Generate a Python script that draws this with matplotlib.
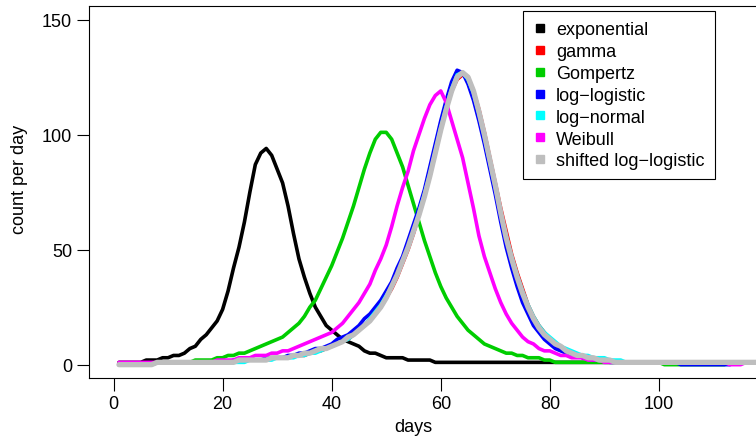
import numpy as np
import matplotlib
matplotlib.use('Agg')
import matplotlib.pyplot as plt
from matplotlib.lines import Line2D

plt.rcParams['font.family'] = ['Liberation Sans', 'DejaVu Sans']

days = np.arange(1, 119)

exponential = [
    1, 1, 1, 1, 1, 2, 2, 2, 3, 3,
    4, 4, 5, 7, 8, 11, 13, 16, 19, 24,
    32, 42, 51, 62, 75, 87, 92, 94, 91, 85,
    79, 69, 57, 46, 38, 31, 25, 21, 17, 15,
    13, 11, 10, 9, 8, 6, 5, 5, 4, 3,
    3, 3, 3, 2, 2, 2, 2, 2, 1, 1,
    1, 1, 1, 1, 1, 1, 1, 1, 1, 1,
    1, 1, 1, 1, 1, 1, 1, 1, 1, 1,
    1, 1, 1, 1, 1, 1, 1, 1, 1, 1,
    1, 1, 1, 1, 1, 1, 1, 1, 1, 1,
    1, 1, 1, 1, 1, 1, 1, 1, 1, 1,
    1, 1, 1, 1, 1, 1, 1, 1,
]
gamma = [
    0, 0, 0, 0, 0, 0, 0, 1, 1, 1,
    1, 1, 1, 1, 1, 1, 1, 1, 1, 1,
    1, 1, 2, 2, 2, 2, 2, 2, 3, 3,
    3, 3, 4, 4, 4, 5, 6, 6, 7, 8,
    9, 10, 11, 13, 15, 17, 19, 22, 25, 29,
    33, 38, 44, 50, 57, 65, 73, 82, 92, 102,
    111, 119, 124, 126, 125, 119, 111, 101, 90, 79,
    68, 58, 48, 40, 33, 26, 21, 17, 14, 11,
    9, 7, 6, 5, 4, 3, 3, 2, 2, 2,
    2, 1, 1, 1, 1, 1, 1, 1, 1, 1,
    1, 1, 1, 1, 1, 1, 1, 1, 1, 1,
    1, 1, 1, 1, 1, 1, 1, 1,
]
gompertz = [
    0, 0, 0, 0, 0, 0, 0, 1, 1, 1,
    1, 1, 1, 1, 2, 2, 2, 2, 3, 3,
    4, 4, 5, 5, 6, 7, 8, 9, 10, 11,
    12, 14, 16, 18, 21, 25, 28, 33, 38, 43,
    49, 55, 62, 69, 77, 85, 92, 98, 101, 101,
    98, 92, 86, 78, 70, 62, 54, 47, 40, 34,
    29, 25, 21, 18, 15, 13, 11, 9, 8, 7,
    6, 5, 5, 4, 4, 3, 3, 3, 2, 2,
    1, 1, 1, 1, 1, 1, 1, 1, 1, 1,
    1, 1, 1, 1, 1, 1, 1, 1, 1, 1,
    0, 0, 0, 0, 0, 0, 0, 0, 0, 0,
    0, 0, 1, 1, 1, 1, 1, 1,
]
log_logistic = [
    0, 0, 0, 0, 0, 0, 0, 1, 1, 1,
    1, 1, 1, 1, 1, 1, 1, 1, 1, 1,
    1, 2, 2, 2, 2, 2, 2, 3, 3, 3,
    3, 4, 4, 5, 5, 6, 7, 7, 8, 9,
    11, 12, 13, 15, 17, 20, 22, 25, 28, 32,
    36, 42, 47, 54, 61, 68, 76, 86, 96, 106,
    115, 123, 128, 127, 122, 115, 106, 96, 85, 74,
    62, 51, 42, 34, 27, 22, 17, 14, 11, 9,
    7, 6, 5, 4, 4, 3, 3, 2, 2, 2,
    1, 1, 1, 1, 1, 1, 1, 1, 1, 1,
    1, 1, 1, 0, 0, 0, 0, 0, 0, 0,
    0, 0, 0, 1, 1, 1, 1, 1,
]
log_normal = [
    0, 0, 0, 0, 0, 0, 0, 1, 1, 1,
    1, 1, 1, 1, 1, 1, 1, 1, 1, 1,
    1, 1, 1, 1, 2, 2, 2, 2, 2, 3,
    3, 3, 3, 4, 4, 5, 5, 6, 7, 8,
    9, 10, 11, 13, 15, 17, 20, 23, 26, 30,
    34, 39, 45, 51, 58, 66, 74, 83, 93, 103,
    112, 120, 126, 127, 124, 118, 109, 99, 88, 77,
    66, 56, 47, 39, 32, 26, 21, 17, 14, 12,
    10, 8, 7, 6, 5, 4, 4, 3, 3, 3,
    2, 2, 2, 1, 1, 1, 1, 1, 1, 1,
    1, 1, 1, 1, 1, 1, 1, 1, 1, 1,
    1, 1, 1, 1, 1, 1, 1, 1,
]
weibull = [
    1, 1, 1, 1, 1, 1, 1, 1, 1, 1,
    1, 1, 1, 1, 1, 1, 1, 1, 2, 2,
    2, 2, 3, 3, 3, 4, 4, 4, 5, 5,
    6, 6, 7, 8, 9, 10, 11, 12, 13, 14,
    16, 18, 21, 24, 27, 31, 35, 41, 46, 52,
    60, 69, 77, 84, 93, 100, 107, 113, 117, 119,
    114, 106, 98, 90, 79, 68, 56, 47, 40, 33,
    27, 22, 18, 15, 12, 10, 9, 7, 6, 6,
    5, 4, 4, 3, 3, 3, 2, 2, 2, 1,
    1, 1, 1, 1, 1, 1, 1, 1, 1, 1,
    1, 1, 1, 1, 1, 1, 1, 1, 1, 1,
    1, 1, 0, 0, 0, 1, 1, 1,
]
shifted_log_logistic = [
    0, 0, 0, 0, 0, 0, 0, 1, 1, 1,
    1, 1, 1, 1, 1, 1, 1, 1, 1, 1,
    1, 1, 2, 2, 2, 2, 2, 2, 3, 3,
    3, 3, 4, 4, 5, 5, 6, 7, 7, 8,
    9, 10, 12, 13, 15, 17, 19, 22, 25, 29,
    34, 39, 45, 51, 58, 65, 73, 82, 92, 102,
    111, 119, 125, 127, 125, 119, 110, 100, 89, 78,
    66, 55, 46, 38, 31, 25, 20, 16, 13, 11,
    9, 8, 6, 5, 4, 4, 3, 3, 2, 2,
    2, 1, 1, 1, 1, 1, 1, 1, 1, 1,
    1, 1, 1, 1, 1, 1, 1, 1, 1, 1,
    1, 1, 1, 1, 1, 1, 1, 1,
]

labels = ['exponential', 'gamma', 'Gompertz', 'log\u2212logistic',
          'log\u2212normal', 'Weibull', 'shifted log\u2212logistic']
colors = ['black', '#ff0000', '#00cd00', '#0000ff', '#00ffff', '#ff00ff', '#bebebe']
series = [exponential, gamma, gompertz, log_logistic, log_normal, weibull,
          shifted_log_logistic]

W, H = 756, 439
fig = plt.figure(figsize=(W / 100, H / 100), dpi=100)
left, right, top, bottom = 89.3, 756, 7.3, 379
ax = fig.add_axes([left / W, 1 - bottom / H, (right - left) / W, (bottom - top) / H])

for vals, col in zip(series, colors):
    lw = 3.8 if col == '#bebebe' else 2.6
    ax.plot(days, vals, color=col, lw=lw, solid_capstyle='round',
            solid_joinstyle='round')

ax.set_xlim(-4.44, 117.8)
ax.set_ylim(-5.8, 155.8)
ax.set_xticks([0, 20, 40, 60, 80, 100])
ax.set_yticks([0, 50, 100, 150])
ax.tick_params(direction='out', length=9, width=0.8, labelsize=13, pad=3.5,
               colors='black')
ax.spines['right'].set_visible(False)
for s in ['left', 'top', 'bottom']:
    ax.spines[s].set_linewidth(0.8)

fig.text(20 / W, 1 - 179 / H, 'count per day', rotation=90, ha='center',
         va='center', fontsize=13)
fig.text(413 / W, 1 - 428 / H, 'days', ha='center', va='center', fontsize=13)

handles = [Line2D([], [], marker='s', color=c, linestyle='none', markersize=6)
           for c in colors]
leg = ax.legend(handles, labels, loc='upper left',
                bbox_to_anchor=(522.7 / W, 1 - 12.3 / H),
                bbox_transform=fig.transFigure, fontsize=13, frameon=True,
                fancybox=False, framealpha=1, edgecolor='black',
                borderpad=0.55, labelspacing=0.27, handlelength=0.8,
                handletextpad=0.5, borderaxespad=0)
leg.get_frame().set_linewidth(0.8)

fig.savefig('out.png', dpi=100)
